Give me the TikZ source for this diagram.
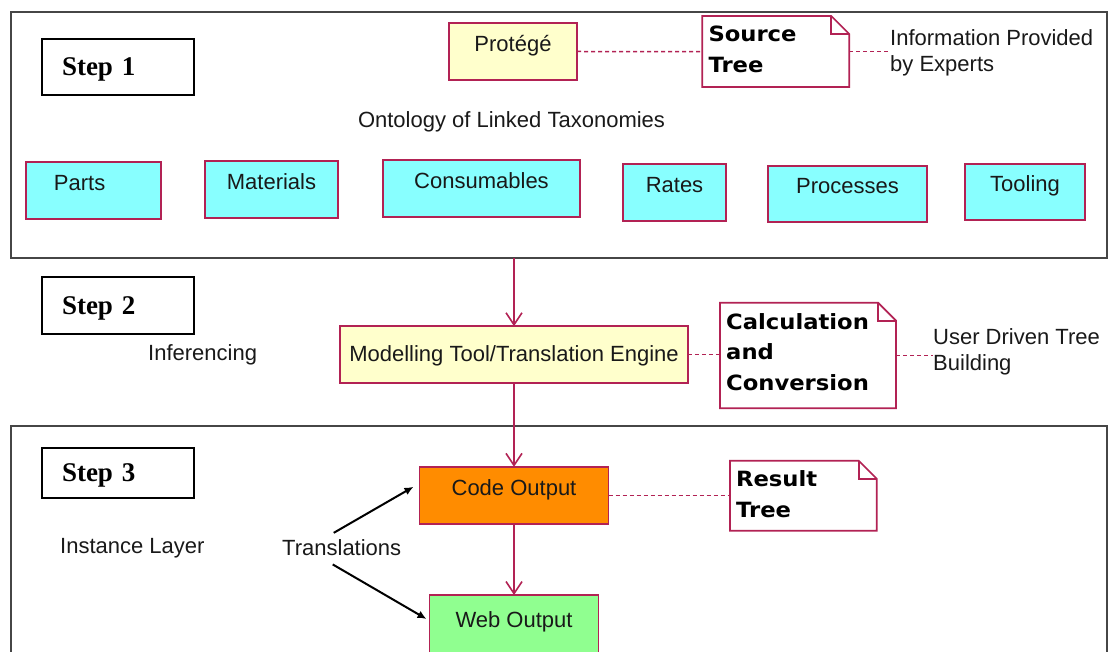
\documentclass[tikz,border=0pt]{standalone}
\usepackage{fontspec}
\setmainfont{Liberation Sans}
\newfontfamily\stepfont{Liberation Serif}
\newfontfamily\notefont{DejaVu Sans}[FakeStretch=1.08]
\usetikzlibrary{arrows.meta,calc}
\definecolor{crim}{RGB}{178,34,84}
\definecolor{framegray}{RGB}{70,70,70}
\definecolor{ylw}{RGB}{255,255,204}
\definecolor{cyn}{RGB}{136,255,255}
\definecolor{orng}{RGB}{255,140,0}
\definecolor{grn}{RGB}{144,255,144}
\definecolor{ink}{RGB}{25,25,25}
\tikzset{
  frame/.style={draw=framegray, line width=1.8pt, inner sep=0pt, outer sep=0pt},
  stepbox/.style={draw=black, line width=2pt, inner xsep=20pt, inner ysep=0pt, text width=112pt, align=left, minimum width=152pt, font=\stepfont\bfseries\fontsize{27}{30}\selectfont, text height=18pt, text depth=0pt, outer sep=0pt},
  ubox/.style={draw=crim, line width=1.7pt, inner sep=0pt, outer sep=0pt, text=ink, text height=16pt, text depth=16pt},
  note/.style={fill=white, inner sep=0pt, outer sep=0pt},
  notepath/.style={draw=crim, line width=1.7pt, line join=miter},
  notetxt/.style={inner sep=0pt, anchor=north west, align=left, font=\notefont\bfseries\fontsize{21}{30.5}\selectfont},
  txt/.style={inner sep=0pt, text=ink},
  dashc/.style={draw=crim, line width=1.5pt, dash pattern=on 4pt off 3pt},
  flow/.style={draw=crim, line width=1.6pt, -{Straight Barb[length=12pt,width=16pt,line width=1.6pt]}},
  trans/.style={draw=black, line width=2pt, -{Latex[length=9pt,width=8pt]}},
}
\newcommand{\noteoutline}[1]{%
  \draw[notepath] (#1.north west) -- ($(#1.north east)+(-18,0)$) -- ($(#1.north east)+(0,18)$) -- (#1.south east) -- (#1.south west) -- cycle;
  \draw[notepath] ($(#1.north east)+(-18,0)$) -- ($(#1.north east)+(-18,18)$) -- ($(#1.north east)+(0,18)$);
}
\begin{document}
\begin{tikzpicture}[x=1pt,y=-1pt,font=\fontsize{22}{26}\selectfont]
\useasboundingbox (0,0) rectangle (1111,652);
\fill[white] (0,0) rectangle (1111,652);
\clip (0,0) rectangle (1111,652);

% frames
\node[frame, minimum width=1096pt, minimum height=246pt] (f1) at (559,135) {};
\node[frame, minimum width=1096pt, minimum height=250pt] (f3) at (559,551) {};

% steps
\node[stepbox, minimum height=56pt] (s1) at (118,67) {Step 1};
\node[stepbox, minimum height=57pt] (s2) at (118,305.5) {Step 2};
\node[stepbox, minimum height=50pt] (s3) at (118,472.7) {Step 3};

% step 1 content
\node[ubox, fill=ylw, minimum width=128pt, minimum height=57pt] (prot) at (513,51.5) {Protégé};
\node[note, minimum width=147pt, minimum height=71pt] (src) at (775.8,51.6) {};
\noteoutline{src}
\node[notetxt] (srct) at ($(src.north west)+(6,10)$) {Source\\Tree};
\node[txt, anchor=west, align=left] (info) at (890,53) {Information Provided\\by Experts};
\node[txt, anchor=base] (onto) at (511.5,128) {Ontology of Linked Taxonomies};

\node[ubox, fill=cyn, minimum width=135pt, minimum height=57pt, text width=135pt, align=left] (parts) at (93.5,190.5) {\hspace*{28pt}Parts};
\node[ubox, fill=cyn, minimum width=133pt, minimum height=57pt] (mat) at (271.5,189.5) {Materials};
\node[ubox, fill=cyn, minimum width=197pt, minimum height=57pt] (cons) at (481.5,188.5) {Consumables};
\node[ubox, fill=cyn, minimum width=103pt, minimum height=57pt] (rates) at (674.5,192.5) {Rates};
\node[ubox, fill=cyn, minimum width=159pt, minimum height=56pt] (proc) at (847.5,194) {Processes};
\node[ubox, fill=cyn, minimum width=120pt, minimum height=56pt] (tool) at (1025,192) {Tooling};

% step 2 content
\node[txt, anchor=base west] (inf) at (148,360) {Inferencing};
\node[ubox, fill=ylw, minimum width=347.6pt, minimum height=57pt, text depth=2pt] (model) at (514,354.7) {Modelling Tool/Translation Engine};
\node[note, minimum width=176pt, minimum height=105.6pt] (calc) at (808,355.5) {};
\noteoutline{calc}
\node[notetxt] (calct) at ($(calc.north west)+(6,10.5)$) {Calculation\\and\\Conversion};
\node[txt, anchor=west, align=left] (user) at (933,352) {User Driven Tree\\Building};

% step 3 content
\node[txt, anchor=base west] (inst) at (60,553) {Instance Layer};
\node[txt, anchor=base west] (tr) at (282,555) {Translations};
\node[ubox, fill=orng, minimum width=189pt, minimum height=57pt] (code) at (514,495.3) {Code Output};
\node[ubox, fill=grn, minimum width=169pt, minimum height=60pt, text depth=12pt] (web) at (514,625) {Web Output};
\node[note, minimum width=146.7pt, minimum height=70pt] (res) at (803.3,495.7) {};
\noteoutline{res}
\node[notetxt] (rest) at ($(res.north west)+(6,10)$) {Result\\Tree};

% dashed links
\draw[dashc] (prot.east) -- (src.west);
\draw[dashc] (src.east) -- (src.east -| info.west);
\draw[dashc] (model.east) -- (model.east -| calc.west);
\draw[dashc] (calc.east) -- (calc.east -| user.west);
\draw[dashc] (code.east) -- (code.east -| res.west);

% flow arrows
\draw[flow] (f1.south -| model.north) -- (model.north);
\draw[flow] (model.south -| code.north) -- (code.north);
\draw[flow] (code.south) -- (web.north);

% translations arrows
\draw[trans] ($(tr.north)+(-8,-6)$) -- ($(code.west)+(-6,-8.5)$);
\draw[trans] ($(tr.south)+(-9,9)$) -- ($(web.north west)+(-3,24)$);
\end{tikzpicture}
\end{document}
